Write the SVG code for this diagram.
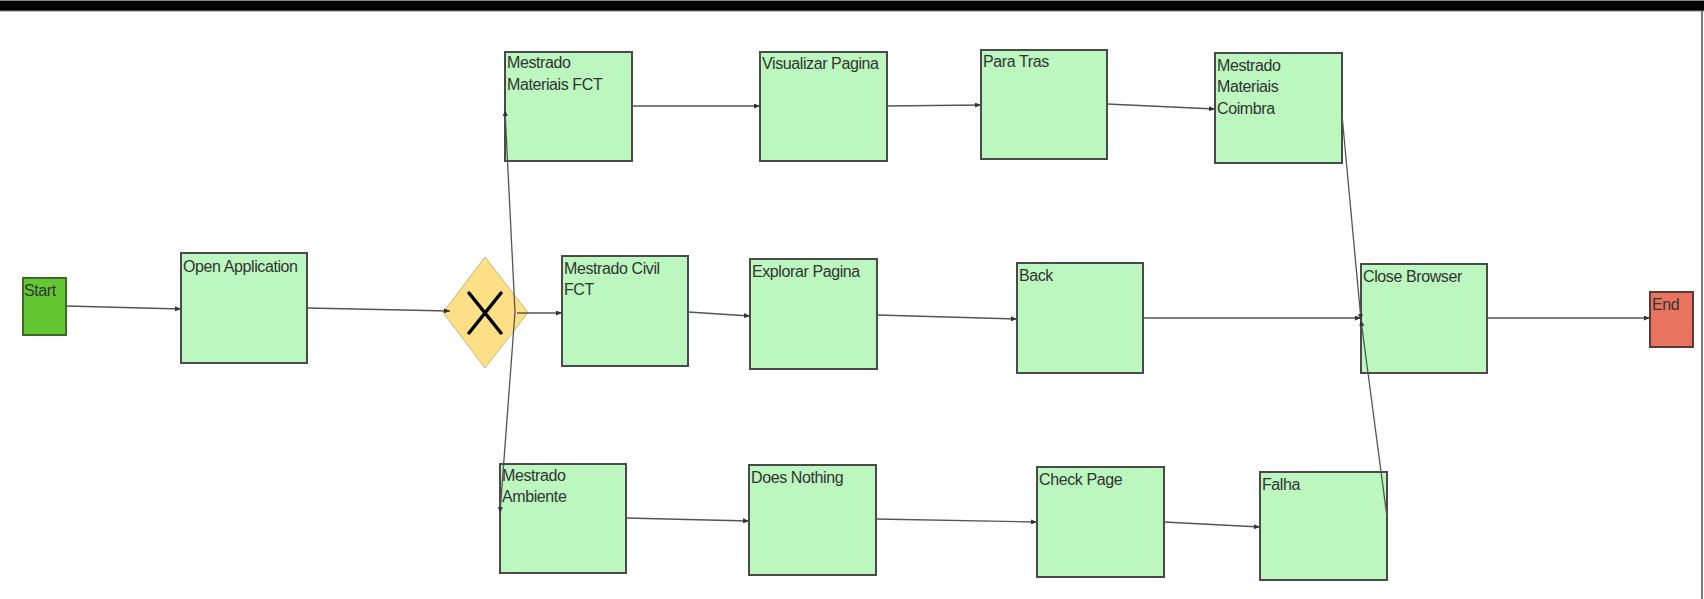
<svg xmlns="http://www.w3.org/2000/svg" width="1704" height="599" viewBox="0 0 1704 599">
<style>
.task{fill:#bbf7bf;stroke:#4a4a4a;stroke-width:2}
.lbl{font-family:"Liberation Sans",Arial,sans-serif;font-size:16px;fill:#333;letter-spacing:-0.4px}
.edge{fill:none;stroke:#555;stroke-width:1.3}
</style>
<defs>
<marker id="arr" markerWidth="6" markerHeight="5" refX="6" refY="2.5" orient="auto" markerUnits="userSpaceOnUse">
<path d="M0,0 L6,2.5 L0,5 z" fill="#333"/>
</marker>
</defs>
<rect x="0" y="0" width="1704" height="599" fill="#fff"/>
<rect x="0" y="0" width="1704" height="11" fill="#000"/>
<line x1="0" y1="0.5" x2="1704" y2="0.5" stroke="#888" stroke-width="1"/>
<line x1="0" y1="11" x2="1704" y2="11" stroke="#888" stroke-width="1.2"/>
<line x1="1702" y1="11" x2="1702" y2="599" stroke="#777" stroke-width="2"/>

<g id="start"><rect x="23" y="278" width="43" height="57" fill="#64c832" stroke="#3f6b2a" stroke-width="2"/><text class="lbl" x="24" y="296">Start</text></g>
<g id="open-application"><rect class="task" x="181" y="253" width="126" height="110"/><text class="lbl" x="183" y="272">Open Application</text></g>
<g id="gateway"><polygon points="485,257 528,312.5 485,368 443,312.5" fill="#fde085" stroke="#cdb57c" stroke-width="1"/><path d="M469,293 L501,333 M501,293 L469,333" stroke="#000" stroke-width="3.5" stroke-linecap="round"/></g>
<g id="mestrado-materiais-fct"><rect class="task" x="505" y="52" width="127" height="109"/><text class="lbl" x="507" y="68">Mestrado<tspan x="507" y="90">Materiais FCT</tspan></text></g>
<g id="visualizar-pagina"><rect class="task" x="760" y="52" width="127" height="109"/><text class="lbl" x="762" y="69">Visualizar Pagina</text></g>
<g id="para-tras"><rect class="task" x="981" y="50" width="126" height="109"/><text class="lbl" x="983" y="67">Para Tras</text></g>
<g id="mestrado-materiais-coimbra"><rect class="task" x="1215" y="53" width="127" height="110"/><text class="lbl" x="1217" y="71">Mestrado<tspan x="1217" y="92">Materiais</tspan><tspan x="1217" y="114">Coimbra</tspan></text></g>
<g id="mestrado-civil-fct"><rect class="task" x="562" y="256" width="126" height="110"/><text class="lbl" x="564" y="274">Mestrado Civil<tspan x="564" y="295">FCT</tspan></text></g>
<g id="explorar-pagina"><rect class="task" x="750" y="259" width="127" height="110"/><text class="lbl" x="752" y="277">Explorar Pagina</text></g>
<g id="back"><rect class="task" x="1017" y="263" width="126" height="110"/><text class="lbl" x="1019" y="281">Back</text></g>
<g id="close-browser"><rect class="task" x="1361" y="264" width="126" height="109"/><text class="lbl" x="1363" y="282">Close Browser</text></g>
<g id="end"><rect x="1650" y="292" width="43" height="55" fill="#e8735f" stroke="#5a3a34" stroke-width="2"/><text class="lbl" x="1652" y="310">End</text></g>
<g id="mestrado-ambiente"><rect class="task" x="500" y="464" width="126" height="109"/><text class="lbl" x="502" y="481">Mestrado<tspan x="502" y="502">Ambiente</tspan></text></g>
<g id="does-nothing"><rect class="task" x="749" y="465" width="127" height="110"/><text class="lbl" x="751" y="483">Does Nothing</text></g>
<g id="check-page"><rect class="task" x="1037" y="467" width="127" height="110"/><text class="lbl" x="1039" y="485">Check Page</text></g>
<g id="falha"><rect class="task" x="1260" y="472" width="127" height="108"/><text class="lbl" x="1262" y="490">Falha</text></g>

<g id="connectors">
<line class="edge" x1="66" y1="306" x2="181" y2="309" marker-end="url(#arr)"/>
<line class="edge" x1="307" y1="308" x2="450" y2="311" marker-end="url(#arr)"/>
<line class="edge" x1="517" y1="313" x2="562" y2="313" marker-end="url(#arr)"/>
<line class="edge" x1="515" y1="312" x2="505" y2="110" marker-end="url(#arr)"/>
<line class="edge" x1="515" y1="312" x2="500" y2="513" marker-end="url(#arr)"/>
<line class="edge" x1="632" y1="106" x2="760" y2="106" marker-end="url(#arr)"/>
<line class="edge" x1="887" y1="106" x2="981" y2="105" marker-end="url(#arr)"/>
<line class="edge" x1="1107" y1="104" x2="1215" y2="109" marker-end="url(#arr)"/>
<line class="edge" x1="688" y1="312" x2="750" y2="316" marker-end="url(#arr)"/>
<line class="edge" x1="877" y1="315" x2="1017" y2="319" marker-end="url(#arr)"/>
<line class="edge" x1="1143" y1="318" x2="1361" y2="318" marker-end="url(#arr)"/>
<line class="edge" x1="1487" y1="318" x2="1650" y2="318" marker-end="url(#arr)"/>
<line class="edge" x1="626" y1="518" x2="749" y2="521" marker-end="url(#arr)"/>
<line class="edge" x1="876" y1="519" x2="1037" y2="522" marker-end="url(#arr)"/>
<line class="edge" x1="1164" y1="522" x2="1260" y2="527" marker-end="url(#arr)"/>
<line class="edge" x1="1342" y1="115" x2="1361" y2="320" marker-end="url(#arr)"/>
<line class="edge" x1="1387" y1="517" x2="1361" y2="320" marker-end="url(#arr)"/>
</g>
</svg>
